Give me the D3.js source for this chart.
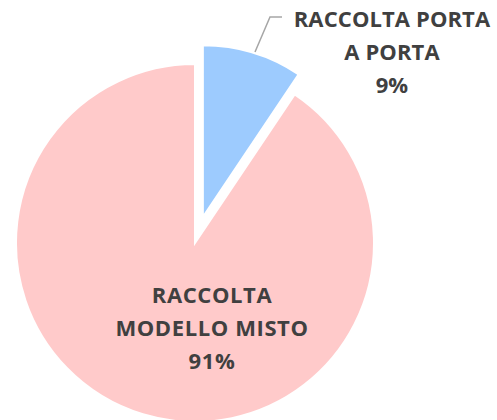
<!DOCTYPE html>
<html>
<head>
<meta charset="utf-8">
<script src="https://cdn.jsdelivr.net/npm/d3@7"></script>
<style>
  body { margin: 0; background: #fff; }
  svg { display: block; }
</style>
</head>
<body>
<div id="chart"></div>
<script>
// chart data
var categories = ["RACCOLTA PORTA A PORTA", "RACCOLTA MODELLO MISTO"]
var values = [9.4, 90.6]
var labelLines = [["RACCOLTA PORTA", "A PORTA"], ["RACCOLTA", "MODELLO MISTO"]]
var colors = ["#9dcbfe", "#ffcaca"]

var width = 497, height = 420
var cx = 195, cy = 243, radius = 179
var explode = 27

var svg = d3.select("#chart").append("svg")
  .attr("width", width)
  .attr("height", height)

var pie = d3.pie().sort(null).value(d => d)
var arcs = pie(values)
var total = d3.sum(values)

var arc = d3.arc().innerRadius(0)

var g = svg.append("g").attr("transform", "translate(" + cx + "," + cy + ")")

g.selectAll("path")
  .data(arcs)
  .enter()
  .append("path")
  .attr("d", (d, i) => arc.outerRadius(i == 0 ? 172 : radius)(d))
  .attr("transform", (d, i) => {
    if (i != 0) return null
    var mid = (d.startAngle + d.endAngle) / 2
    return "translate(" + (Math.sin(mid) * explode) + "," + (-Math.cos(mid) * explode) + ")"
  })
  .attr("fill", (d, i) => colors[i])
  .attr("stroke", "#fff")
  .attr("stroke-width", 2)

// leader line for the small slice
svg.append("polyline")
  .attr("points", "255,52 270,17 282,17")
  .attr("fill", "none")
  .attr("stroke", "#a6a6a6")
  .attr("stroke-width", 1.5)

var labelPos = [[392, 27], [212, 303]]

labelLines.forEach((lines, i) => {
  var t = svg.append("text")
    .attr("text-anchor", "middle")
    .attr("font-family", "'Open Sans', sans-serif")
    .attr("font-weight", "bold")
    .attr("font-size", 22)
    .attr("letter-spacing", i == 1 ? 0.6 : 0.1)
    .attr("fill", "#404040")
  lines.concat([Math.round(values[i] / total * 100) + "%"]).forEach((line, j) => {
    t.append("tspan")
      .attr("x", labelPos[i][0])
      .attr("y", labelPos[i][1] + j * 33)
      .text(line)
  })
})
</script>
</body>
</html>
